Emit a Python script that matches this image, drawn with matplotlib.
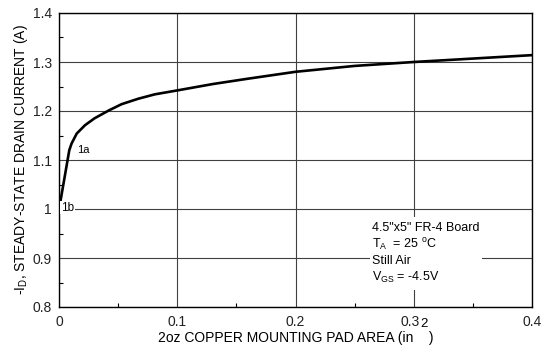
"""Steady-state drain current vs. copper mounting pad area."""

import matplotlib
matplotlib.use("Agg")
import matplotlib.pyplot as plt
from matplotlib.patches import Rectangle
from matplotlib.ticker import MultipleLocator
from matplotlib.transforms import ScaledTranslation

plt.rcParams["font.family"] = ["Liberation Sans", "DejaVu Sans"]
plt.rcParams["mathtext.fontset"] = "custom"
plt.rcParams["mathtext.rm"] = "Liberation Sans"

# values
pad_area = [0.0003, 0.0087, 0.0107, 0.015, 0.022, 0.030, 0.042, 0.053,
            0.067, 0.081, 0.1, 0.13, 0.16, 0.2, 0.25, 0.3, 0.35, 0.4]
drain_current = [1.003, 1.120, 1.134, 1.154, 1.171, 1.185, 1.201, 1.214,
                 1.225, 1.234, 1.242, 1.255, 1.266, 1.280, 1.292, 1.300,
                 1.307, 1.314]

x_ticks = [0, 0.1, 0.2, 0.3, 0.4]
x_tick_labels = ["0", "0.1", "0.2", "0.3", "0.4"]
y_ticks = [0.8, 0.9, 1.0, 1.1, 1.2, 1.3, 1.4]
y_tick_labels = ["0.8", "0.9", "1", "1.1", "1.2", "1.3", "1.4"]

note_lines = [
    "4.5\"x5\" FR-4 Board",
    r"$\mathregular{T_A}$  = 25 $\mathregular{^oC}$",
    "Still Air",
    r"$\mathregular{V_{GS}}$ = -4.5V",
]

fig = plt.figure(figsize=(5.48, 3.51), dpi=100)
ax = fig.add_axes([59 / 548, 44 / 351, 473 / 548, 294 / 351])

ax.grid(True, which="major", color="#404040", linewidth=0.8)
ax.set_axisbelow(True)
ax.plot(pad_area, drain_current, color="black", linewidth=1.9,
        solid_joinstyle="round", zorder=3)

ax.set_xlim(0, 0.4)
ax.set_ylim(0.8, 1.4)
ax.set_xticks(x_ticks, x_tick_labels)
ax.set_yticks(y_ticks, y_tick_labels)
ax.xaxis.set_minor_locator(MultipleLocator(0.05))
ax.yaxis.set_minor_locator(MultipleLocator(0.05))
ax.tick_params(which="major", direction="in", length=0, labelsize=10,
               colors="#222222")
ax.tick_params(axis="x", which="major", pad=5.5)
ax.tick_params(axis="y", which="major", pad=5)
ax.tick_params(which="minor", direction="in", length=3, width=0.8)
for s in ax.spines.values():
    s.set_linewidth(1.0)

# the 0.3 label sits a little left of its tick in the original
lbl = ax.xaxis.get_major_ticks()[3].label1
lbl.set_transform(lbl.get_transform()
                  + ScaledTranslation(-4 / 100, 0, fig.dpi_scale_trans))

ax.set_xlabel("2oz COPPER MOUNTING PAD AREA (in    )", fontsize=10,
              labelpad=2)
ax.set_ylabel(r"-I$_{\mathregular{D}}$, STEADY-STATE DRAIN CURRENT (A)",
              fontsize=10, labelpad=2)
# stray superscript of in^2, sits next to the 0.3 label in the original
fig.text(424 / 548, 1 - 324 / 351, "2", fontsize=9.5, ha="center",
         va="center")

ax.text(0.0155, 1.121, "1a", fontsize=8, va="center", zorder=4)
ax.text(0.0016, 1.003, "1b", fontsize=8.5, va="center", zorder=4,
        bbox=dict(facecolor="white", edgecolor="none", pad=0.5))

# white patch behind the conditions note
ax.add_patch(Rectangle((0.263, 0.834), 0.095, 0.149, facecolor="white",
                       edgecolor="none", zorder=2))
for i, line in enumerate(note_lines):
    ax.text(0.2645, 0.9606 - i * 0.0333, line, fontsize=9, va="center",
            ha="left", zorder=4)

fig.savefig("out.png", dpi=100)
